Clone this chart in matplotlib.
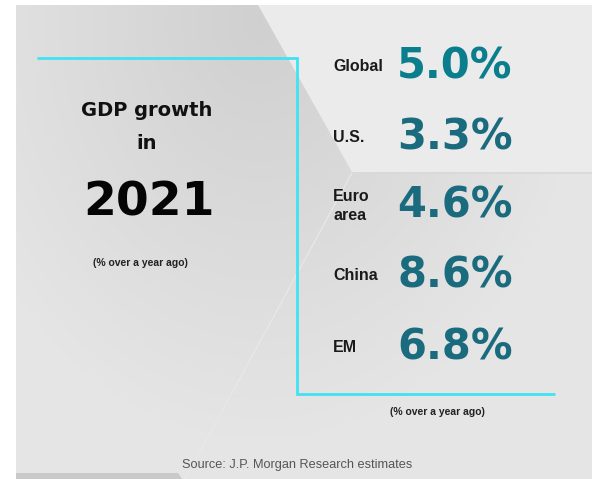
import numpy as np
import matplotlib.pyplot as plt
from matplotlib.patches import Polygon

# data
regions = ["Global", "U.S.", "Euro\narea", "China", "EM"]
growth = [5.0, 3.3, 4.6, 8.6, 6.8]
year = "2021"
title = "GDP growth\nin"
unit_note = "(% over a year ago)"
source = "Source: J.P. Morgan Research estimates"

# layout (pixel coords, y down)
W, H = 611, 479
row_y = [66, 137, 206, 275, 348]
label_x = 333
value_x = 397
value_colors = ["#0b7e8d", "#1b6b7e", "#1b6b7e", "#1b6b7e", "#1b6b7e"]
cyan = "#40e2f4"
narrow = ["Liberation Sans", "DejaVu Sans"]

fig = plt.figure(figsize=(W / 100, H / 100), dpi=100)
fig.patch.set_facecolor("white")
ax = fig.add_axes([0, 0, 1, 1])
ax.set_xlim(0, W)
ax.set_ylim(H, 0)
ax.axis("off")

# background panel with soft grey gradient
x0, x1, y0, y1 = 16, 592, 5, 479
xx, yy = np.meshgrid(np.linspace(x0, x1, 300), np.linspace(y0, y1, 250))
d = np.sqrt((xx - 260) ** 2 + ((yy - 20) / 1.3) ** 2)
g = 0.815 + 0.085 * np.clip(d / 330, 0, 1)
img = np.dstack([g, g, g])
ax.imshow(img, extent=(x0, x1, y1, y0), aspect="auto", zorder=0)

# lighter facet top right + faint edges
ax.add_patch(Polygon([(258, y0), (x1, y0), (x1, 172), (352, 172)],
                     closed=True, facecolor="#ebebeb", edgecolor="none", zorder=1))
ax.plot([352, x1], [173, 173], color="#d9d9d9", lw=1.2,
        solid_capstyle="butt", zorder=1)
ax.plot([352, 185], [173, y1], color="#e9e9e9", lw=0.8, zorder=1)
ax.add_patch(Polygon([(x0, 473), (178, 473), (182, y1), (x0, y1)],
                     closed=True, facecolor="#c9c9c9", edgecolor="none", zorder=1))

# cyan frame lines
ax.plot([37, 297, 297, 555], [58, 58, 394, 394], color=cyan, lw=2,
        solid_joinstyle="miter", solid_capstyle="butt", zorder=2)

# left block
ax.text(147, 127, title, ha="center", va="center", fontsize=14,
        fontweight="bold", color="#111111", linespacing=1.9, zorder=3)
ax.text(149, 203, year, ha="center", va="center", fontsize=34,
        fontweight="bold", color="#050505", zorder=3)
ax.text(140, 263, unit_note, ha="center", va="center", fontsize=7.5,
        fontweight="bold", family=narrow, color="#222222", zorder=3)

# right block
for lab, val, yc, col in zip(regions, growth, row_y, value_colors):
    ax.text(label_x, yc, lab, ha="left", va="center", fontsize=11.5,
            fontweight="bold", family=narrow, color="#1a1a1a",
            linespacing=1.4, zorder=3)
    ax.text(value_x, yc, f"{val:.1f}%", ha="left", va="center",
            fontsize=30, fontweight="bold", color=col, zorder=3)

ax.text(437, 412, unit_note, ha="center", va="center", fontsize=7.5,
        fontweight="bold", family=narrow, color="#222222", zorder=3)
ax.text(297, 465, source, ha="center", va="center", fontsize=9.2,
        family=narrow, color="#555555", zorder=3)

fig.savefig("out.png", dpi=100)
